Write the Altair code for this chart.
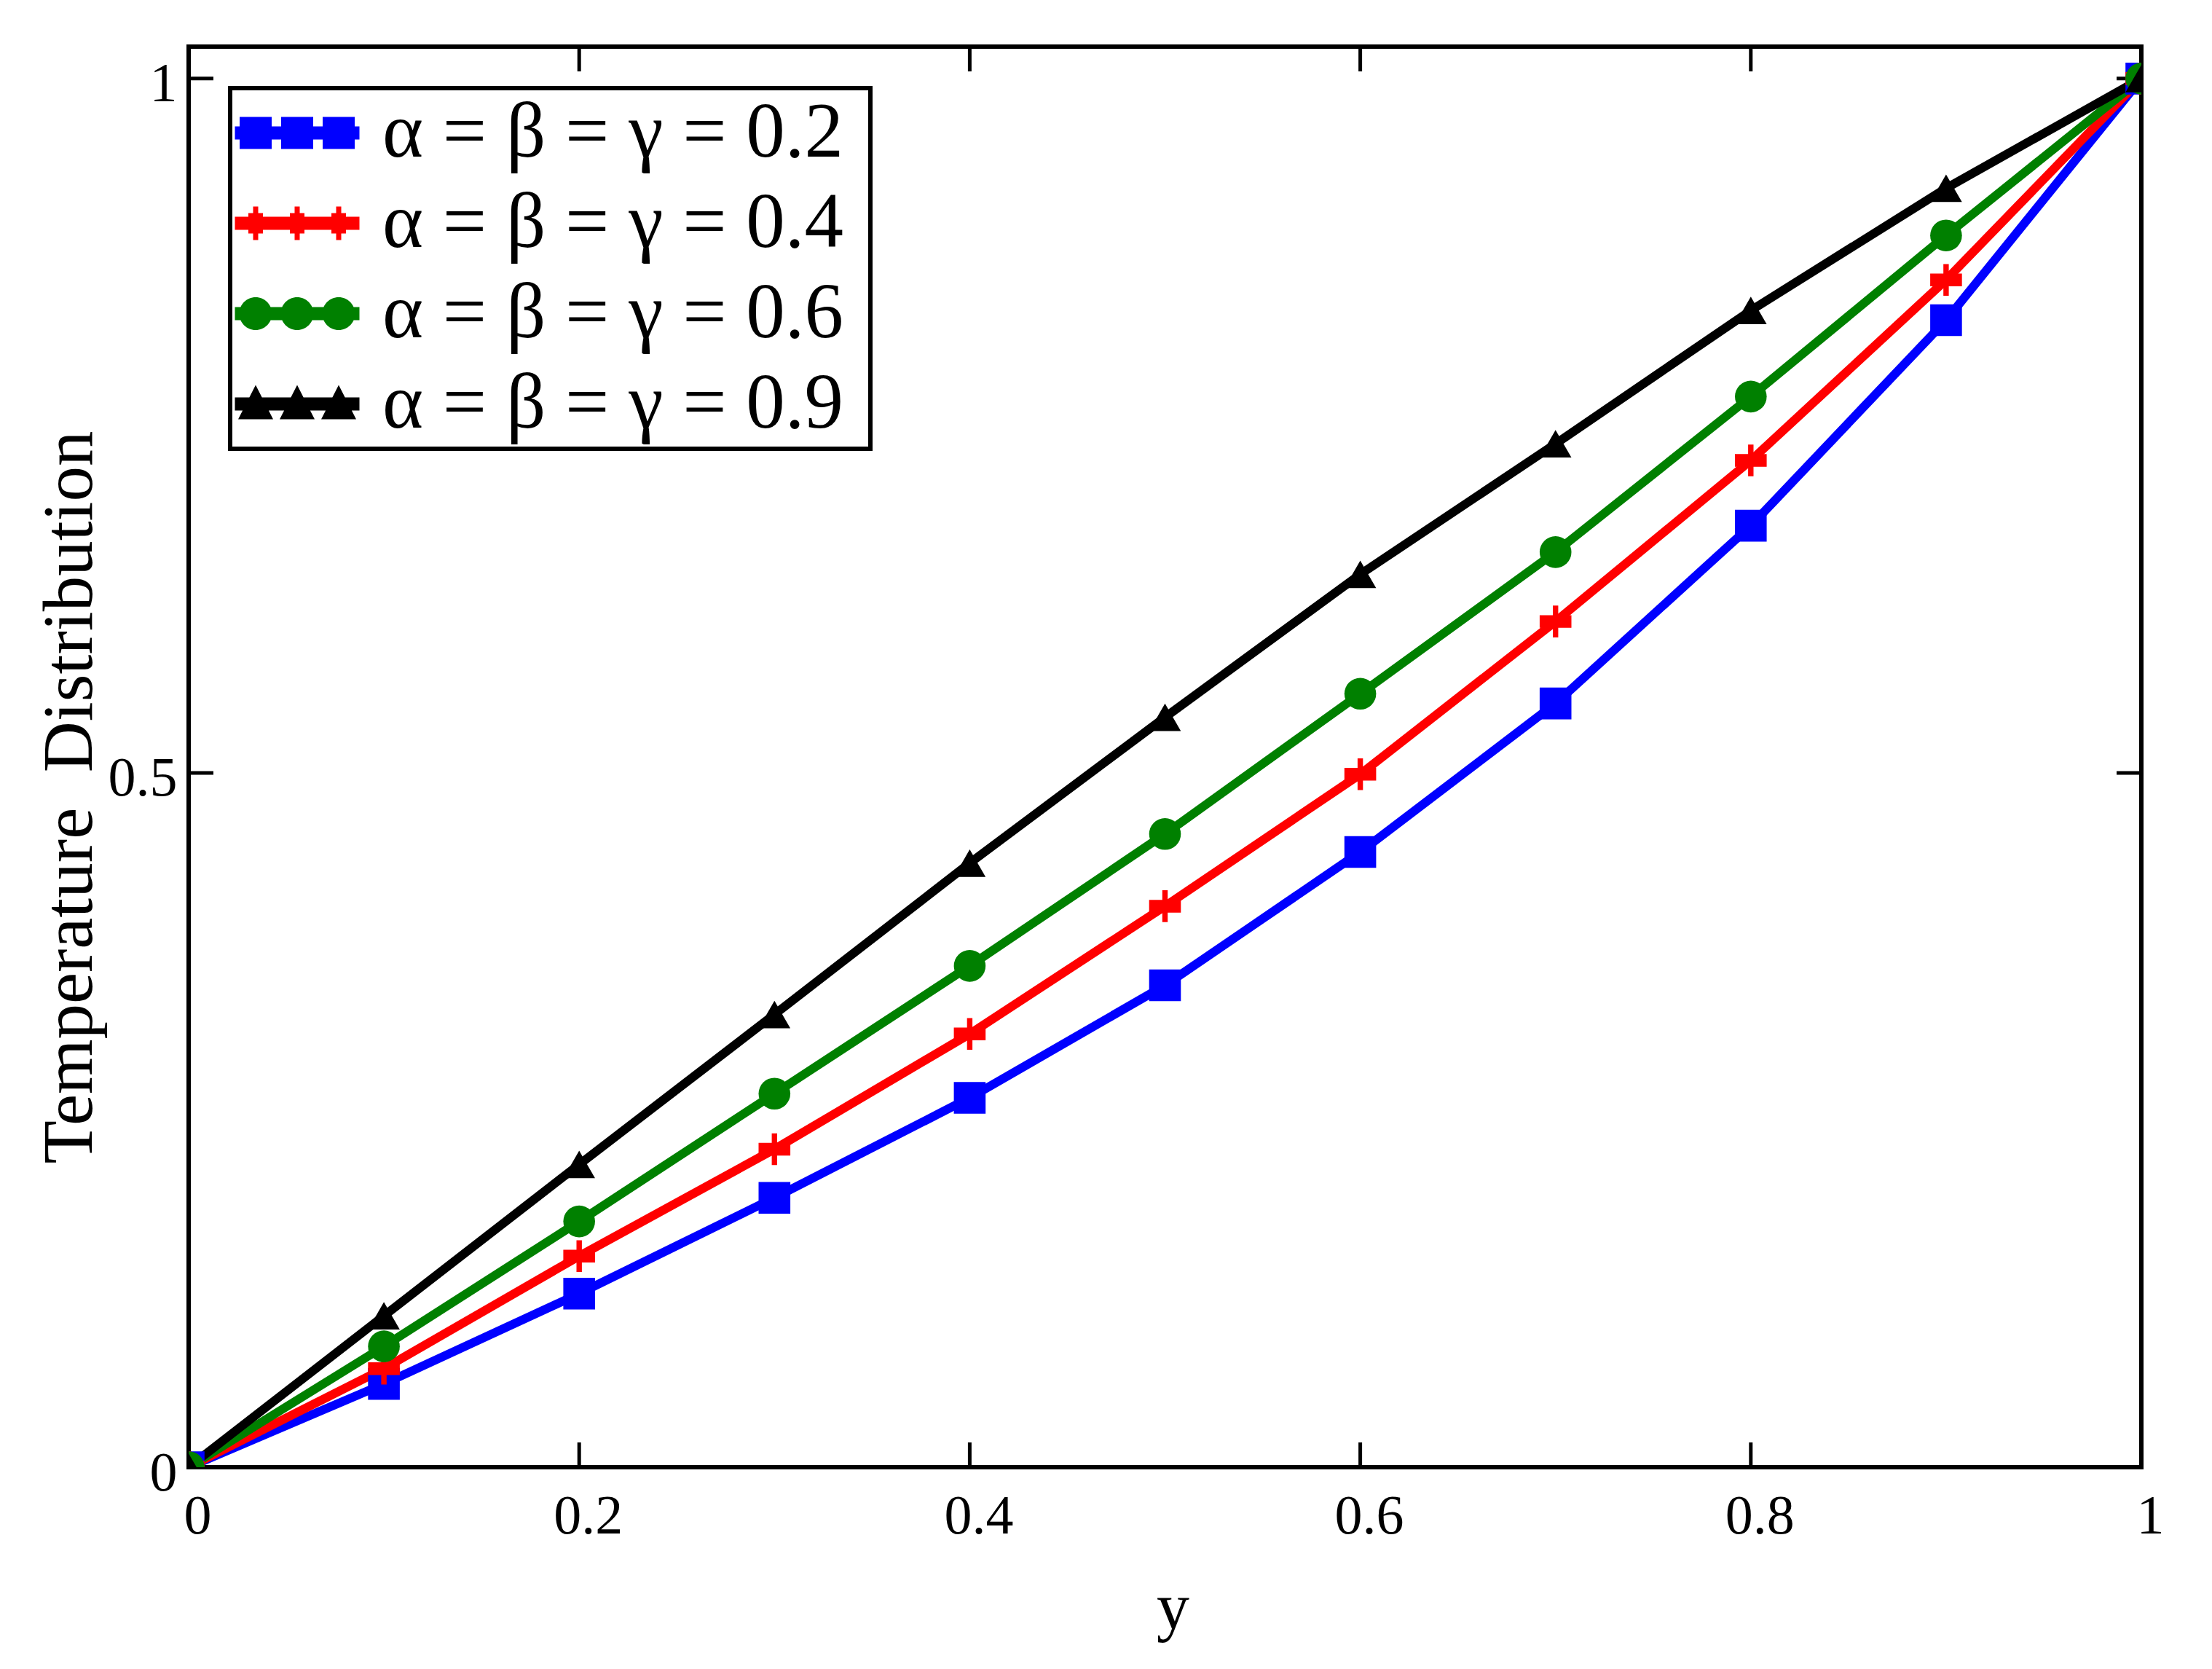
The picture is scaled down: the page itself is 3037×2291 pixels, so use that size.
import altair as alt
import pandas as pd

# ---------------- data ----------------
x_vals = [0.0, 0.1, 0.2, 0.3, 0.4, 0.5, 0.6, 0.7, 0.8, 0.9, 1.0]
series_labels = ["α = β = γ = 0.2", "α = β = γ = 0.4", "α = β = γ = 0.6", "α = β = γ = 0.9"]
temp_02 = [0.0, 0.060, 0.125, 0.194, 0.266, 0.347, 0.443, 0.550, 0.678, 0.826, 1.0]
temp_04 = [0.0, 0.071, 0.152, 0.229, 0.312, 0.404, 0.499, 0.609, 0.725, 0.855, 1.0]
temp_06 = [0.0, 0.087, 0.177, 0.269, 0.361, 0.456, 0.557, 0.659, 0.771, 0.887, 1.0]
temp_09 = [0.0, 0.109, 0.218, 0.326, 0.435, 0.540, 0.643, 0.737, 0.833, 0.921, 1.0]
x_tick_values = [0, 0.2, 0.4, 0.6, 0.8, 1]
y_tick_values = [0, 0.5, 1]
inner_x_ticks = [0.2, 0.4, 0.6, 0.8]
inner_y_ticks = [0.5, 1.0]

colors = ["#0000ff", "#ff0000", "#008000", "#000000"]

rows = []
for lab, vals in zip(series_labels, [temp_02, temp_04, temp_06, temp_09]):
    for xv, yv in zip(x_vals, vals):
        rows.append({"y": xv, "T": yv, "series": lab})
df = pd.DataFrame(rows)

W, H = 2681, 1950
FONT = "Liberation Serif"
TICK = 34

# ---------------- symbol paths ----------------
def rect(x0, y0, x1, y1):
    return f"M{x0:.3f},{y0:.3f}H{x1:.3f}V{y1:.3f}H{x0:.3f}Z"

# legend symbols: nominal symbol box 100px (unit = 50px), drawn 171px wide,
# shifted so that it starts just inside the legend frame
c0 = 0.61
centers = [c0 - 1.14, c0, c0 + 1.14]
bar = rect(c0 - 1.71, -0.18, c0 + 1.71, 0.18)
leg_square = bar + "".join(rect(c - 0.44, -0.44, c + 0.44, 0.44) for c in centers)
leg_cross = bar + "".join(rect(c - 0.07, -0.46, c + 0.07, 0.46) + rect(c - 0.2, -0.28, c + 0.2, 0.28) for c in centers)
leg_circle = bar + "".join(
    f"M{c-0.45:.3f},0A0.45,0.45 0 1,1 {c+0.45:.3f},0A0.45,0.45 0 1,1 {c-0.45:.3f},0Z" for c in centers)
leg_tri = bar + "".join(f"M{c:.3f},-0.52L{c+0.48:.3f},0.42L{c-0.48:.3f},0.42Z" for c in centers)

plot_cross = rect(-1, -0.4, 1, 0.4) + rect(-0.17, -1, 0.17, 1)

color_scale = alt.Scale(domain=series_labels, range=colors)

x_enc = alt.X("y:Q", scale=alt.Scale(domain=[0, 1], nice=False, zero=False),
              axis=alt.Axis(values=x_tick_values, format="~g", title="y",
                            ticks=False, domain=False, grid=False, labelFlush=False,
                            labelFont=FONT, labelFontSize=76, labelColor="black",
                            labelPadding=30, labelOffset=12, labelFontWeight="normal",
                            titleFont=FONT, titleFontSize=90, titleFontWeight="normal",
                            titleColor="black", titleX=1351, titleY=221,
                            titleBaseline="alphabetic", titleAlign="center"))
y_enc = alt.Y("T:Q", scale=alt.Scale(domain=[0, 1.023], nice=False, zero=False),
              axis=alt.Axis(values=y_tick_values, format="~g",
                            title="Temperature\u00a0 Distribution",
                            ticks=False, domain=False, grid=False, labelFlush=False,
                            labelFont=FONT, labelFontSize=76, labelColor="black",
                            labelPadding=16, labelOffset=8, labelBaseline="middle",
                            titleFont=FONT, titleFontSize=97, titleFontWeight="normal",
                            titleColor="black", titleX=-134, titleY=1030,
                            titleBaseline="alphabetic", titleAlign="center"))

lines = alt.Chart(df).mark_line(strokeWidth=12, clip=True).encode(
    x=x_enc, y=y_enc,
    color=alt.Color("series:N", scale=color_scale, legend=None),
    detail="series:N",
)

points = alt.Chart(df).mark_point(filled=True, opacity=1, strokeWidth=0, clip=True).encode(
    x="y:Q", y="T:Q",
    color=alt.Color("series:N", scale=color_scale, legend=None),
    shape=alt.Shape("series:N", scale=alt.Scale(domain=series_labels,
                    range=["square", plot_cross, "circle", "triangle-up"]), legend=None),
    size=alt.Size("series:N", scale=alt.Scale(domain=series_labels,
                  range=[1900, 1900, 1950, 2400]), legend=None),
)

legend_props = dict(title="\u00a0", titleOrient="right", titlePadding=29,
                    titleFontSize=1, titleColor="white",
                    orient="none", legendX=57, legendY=57)
legend_layer = alt.Chart(df).transform_filter("false").mark_point(filled=True, opacity=1).encode(
    x="y:Q", y="T:Q",
    color=alt.Color("series:N", scale=color_scale, legend=alt.Legend(**legend_props)),
    shape=alt.Shape("series:N", scale=alt.Scale(domain=series_labels,
                    range=[leg_square, leg_cross, leg_circle, leg_tri]),
                    legend=alt.Legend(**legend_props)),
)

tick_x_df = pd.DataFrame({"v": inner_x_ticks})
tick_y_df = pd.DataFrame({"v": inner_y_ticks})

bottom_ticks = alt.Chart(tick_x_df).mark_rule(color="black", strokeWidth=5).encode(
    x="v:Q", y=alt.value(H), y2=alt.value(H - TICK))
top_ticks = alt.Chart(tick_x_df).mark_rule(color="black", strokeWidth=5).encode(
    x="v:Q", y=alt.value(0), y2=alt.value(TICK))
left_ticks = alt.Chart(tick_y_df).mark_rule(color="black", strokeWidth=5).encode(
    y="v:Q", x=alt.value(0), x2=alt.value(TICK))
right_ticks = alt.Chart(tick_y_df).mark_rule(color="black", strokeWidth=5).encode(
    y="v:Q", x=alt.value(W), x2=alt.value(W - TICK))

chart = alt.layer(
    bottom_ticks, top_ticks, left_ticks, right_ticks, lines, points, legend_layer
).resolve_scale(
    color="independent", shape="independent", size="independent"
).properties(
    width=W, height=H,
    autosize=alt.AutoSizeParams(type="none"),
    padding={"left": 251, "top": 56, "right": 89, "bottom": 269},
    background="white",
).configure_view(
    stroke="black", strokeWidth=6
).configure_legend(
    labelFont=FONT, labelFontSize=107, labelColor="black", labelLimit=0,
    symbolSize=10000, symbolStrokeWidth=0, symbolOpacity=1,
    padding=8, rowPadding=16, labelOffset=94,
    strokeColor="black", strokeWidth=6, fillColor="white",
)

chart.save("out.html", embed_options={"renderer": "svg", "actions": False})
